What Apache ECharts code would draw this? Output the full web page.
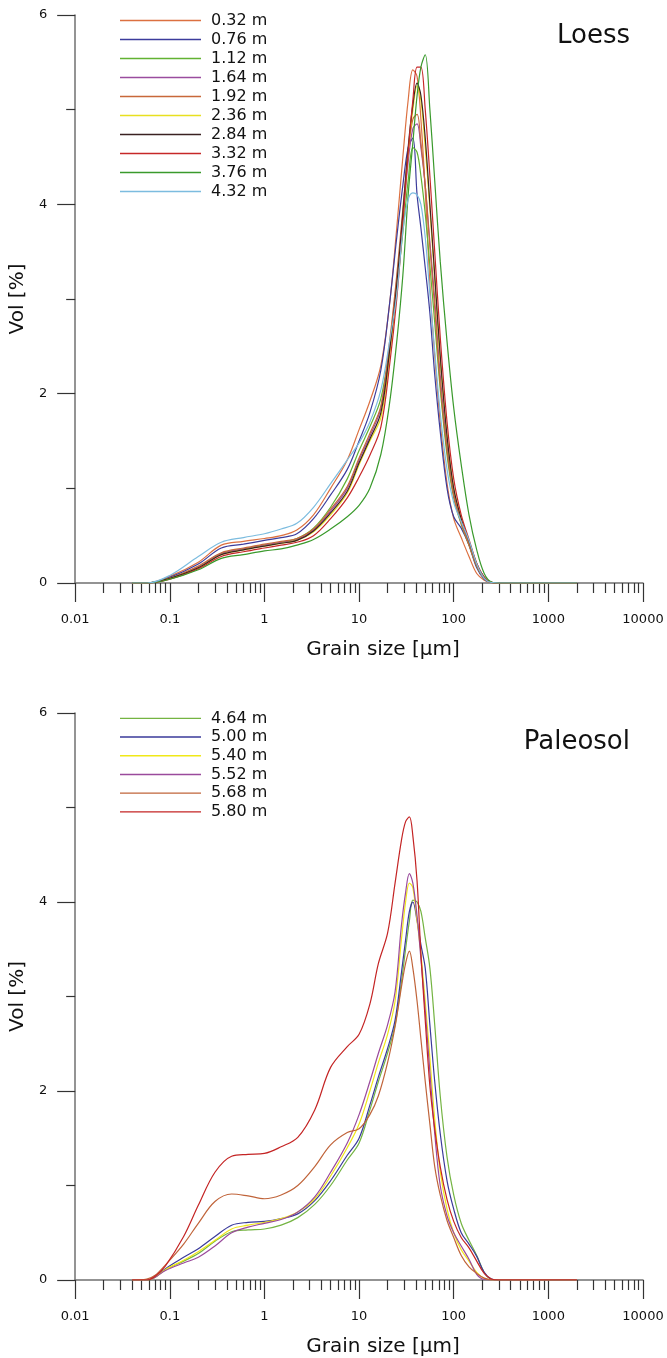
<!DOCTYPE html>
<html>
<head>
<meta charset="utf-8">
<script src="https://cdn.jsdelivr.net/npm/echarts@6/dist/echarts.min.js"></script>
<style>
  html, body { margin: 0; padding: 0; background: #fff; }
  #main { width: 667px; height: 1358px; }
</style>
</head>
<body>
<div id="main"></div>
<script>
// grain size classes (µm)
var loessSizes = [0.04, 0.058, 0.1, 0.2, 0.35, 0.6, 1, 1.5, 2.2, 3.3, 5, 7.5, 10, 13, 17, 21, 25, 29, 33, 37, 41, 45, 50, 56, 63, 72, 85, 100, 120, 145, 175, 210, 250, 300, 2000];
var paleoSizes = [0.04, 0.057, 0.07, 0.09, 0.14, 0.2, 0.3, 0.45, 0.67, 1, 1.5, 2.25, 3.4, 5, 7.5, 10, 13, 16, 20, 24, 28, 31, 34, 37, 41, 45, 50, 56, 63, 72, 85, 100, 120, 145, 175, 210, 250, 300, 2000];

// Loess samples (Vol %)
var loess032 = [0, 0, 0.07, 0.22, 0.40, 0.44, 0.47, 0.50, 0.56, 0.72, 1.00, 1.30, 1.62, 1.92, 2.30, 2.95, 3.75, 4.50, 5.10, 5.42, 5.35, 4.90, 4.15, 3.15, 2.40, 1.70, 1.05, 0.68, 0.48, 0.28, 0.10, 0.03, 0.003, 0, 0];
var loess076 = [0, 0, 0.06, 0.20, 0.37, 0.41, 0.45, 0.48, 0.52, 0.68, 0.93, 1.20, 1.50, 1.80, 2.25, 2.95, 3.65, 4.20, 4.60, 4.70, 4.10, 3.75, 3.33, 2.85, 2.20, 1.60, 1.00, 0.70, 0.58, 0.40, 0.16, 0.04, 0.005, 0, 0];
var loess112 = [0, 0, 0.05, 0.16, 0.31, 0.36, 0.40, 0.43, 0.47, 0.58, 0.80, 1.10, 1.40, 1.65, 1.95, 2.50, 3.10, 3.70, 4.25, 4.60, 4.55, 4.30, 3.90, 3.35, 2.75, 2.05, 1.35, 0.90, 0.62, 0.40, 0.18, 0.05, 0.005, 0, 0];
var loess164 = [0, 0, 0.05, 0.17, 0.31, 0.36, 0.40, 0.43, 0.46, 0.56, 0.76, 1.00, 1.30, 1.55, 1.85, 2.50, 3.20, 3.85, 4.45, 4.80, 4.85, 4.60, 4.20, 3.60, 3.00, 2.20, 1.45, 0.95, 0.65, 0.42, 0.20, 0.06, 0.006, 0, 0];
var loess192 = [0, 0, 0.05, 0.18, 0.32, 0.37, 0.41, 0.44, 0.47, 0.57, 0.78, 1.02, 1.32, 1.58, 1.87, 2.55, 3.25, 3.95, 4.55, 4.90, 4.95, 4.65, 4.20, 3.55, 2.90, 2.10, 1.40, 0.92, 0.63, 0.40, 0.18, 0.05, 0.005, 0, 0];
var loess236 = [0, 0, 0.05, 0.16, 0.30, 0.35, 0.39, 0.42, 0.45, 0.54, 0.72, 0.95, 1.25, 1.50, 1.75, 2.40, 3.10, 3.85, 4.55, 5.00, 5.25, 5.10, 4.60, 3.95, 3.20, 2.35, 1.55, 1.00, 0.68, 0.44, 0.20, 0.06, 0.006, 0, 0];
var loess284 = [0, 0, 0.05, 0.16, 0.30, 0.35, 0.39, 0.42, 0.45, 0.55, 0.74, 0.97, 1.27, 1.52, 1.80, 2.45, 3.15, 3.90, 4.60, 5.05, 5.28, 5.15, 4.70, 4.00, 3.25, 2.40, 1.55, 1.00, 0.68, 0.44, 0.20, 0.06, 0.006, 0, 0];
var loess332 = [0, 0, 0.04, 0.15, 0.28, 0.33, 0.37, 0.40, 0.43, 0.50, 0.68, 0.90, 1.12, 1.35, 1.65, 2.30, 3.00, 3.80, 4.55, 5.10, 5.45, 5.45, 5.00, 4.30, 3.50, 2.60, 1.70, 1.10, 0.72, 0.46, 0.21, 0.06, 0.006, 0, 0];
var loess376 = [0, 0, 0.04, 0.14, 0.26, 0.30, 0.34, 0.36, 0.40, 0.46, 0.57, 0.70, 0.82, 1.00, 1.36, 1.90, 2.55, 3.25, 4.10, 4.65, 5.15, 5.45, 5.58, 5.00, 4.25, 3.40, 2.55, 1.85, 1.25, 0.72, 0.35, 0.10, 0.01, 0, 0];
var loess432 = [0, 0, 0.08, 0.28, 0.43, 0.48, 0.52, 0.57, 0.63, 0.80, 1.05, 1.30, 1.48, 1.70, 2.04, 2.55, 3.05, 3.72, 4.05, 4.12, 4.10, 4.00, 3.65, 3.05, 2.45, 1.80, 1.20, 0.85, 0.65, 0.45, 0.20, 0.05, 0.005, 0, 0];

// Paleosol samples (Vol %)
var paleo464 = [0, 0, 0.03, 0.11, 0.20, 0.28, 0.41, 0.51, 0.53, 0.54, 0.58, 0.66, 0.80, 1.00, 1.27, 1.45, 1.80, 2.10, 2.40, 2.70, 3.15, 3.50, 3.80, 4.02, 4.00, 3.90, 3.62, 3.30, 2.70, 1.95, 1.30, 0.90, 0.60, 0.42, 0.26, 0.08, 0.008, 0, 0];
var paleo500 = [0, 0, 0.03, 0.12, 0.24, 0.33, 0.46, 0.58, 0.61, 0.62, 0.65, 0.70, 0.84, 1.05, 1.32, 1.50, 1.85, 2.15, 2.45, 2.75, 3.25, 3.60, 3.90, 4.00, 3.80, 3.55, 3.30, 2.70, 2.10, 1.55, 1.05, 0.75, 0.50, 0.38, 0.25, 0.08, 0.01, 0, 0];
var paleo540 = [0, 0, 0.03, 0.11, 0.21, 0.30, 0.42, 0.54, 0.58, 0.61, 0.65, 0.72, 0.86, 1.10, 1.40, 1.65, 2.00, 2.30, 2.60, 2.95, 3.60, 4.00, 4.20, 4.15, 3.80, 3.45, 2.95, 2.35, 1.70, 1.15, 0.75, 0.50, 0.32, 0.20, 0.08, 0.015, 0.002, 0, 0];
var paleo552 = [0, 0, 0.03, 0.10, 0.18, 0.24, 0.36, 0.50, 0.56, 0.60, 0.64, 0.72, 0.88, 1.14, 1.45, 1.75, 2.10, 2.40, 2.70, 3.05, 3.75, 4.10, 4.30, 4.20, 3.85, 3.40, 2.85, 2.20, 1.55, 1.00, 0.68, 0.50, 0.36, 0.22, 0.06, 0.005, 0, 0, 0];
var paleo568 = [0, 0.01, 0.05, 0.16, 0.38, 0.60, 0.83, 0.91, 0.89, 0.86, 0.90, 1.00, 1.20, 1.43, 1.56, 1.60, 1.75, 1.95, 2.30, 2.68, 3.10, 3.35, 3.48, 3.30, 2.95, 2.55, 2.10, 1.65, 1.20, 0.90, 0.63, 0.45, 0.26, 0.14, 0.07, 0.02, 0.002, 0, 0];
var paleo580 = [0, 0, 0.04, 0.15, 0.46, 0.79, 1.14, 1.31, 1.33, 1.34, 1.41, 1.51, 1.80, 2.25, 2.47, 2.60, 2.92, 3.35, 3.67, 4.20, 4.65, 4.85, 4.90, 4.70, 4.22, 3.45, 2.75, 2.05, 1.60, 1.20, 0.85, 0.62, 0.45, 0.34, 0.20, 0.07, 0.01, 0, 0];

var loessNames = ["0.32 m", "0.76 m", "1.12 m", "1.64 m", "1.92 m", "2.36 m", "2.84 m", "3.32 m", "3.76 m", "4.32 m"];
var loessColors = ["#dc7040", "#3c3c9c", "#62b232", "#9a4c9e", "#c8683a", "#e8e020", "#3a2222", "#c62828", "#3a9a2c", "#7cbcdf"];
var loessData = [loess032, loess076, loess112, loess164, loess192, loess236, loess284, loess332, loess376, loess432];

var paleoNames = ["4.64 m", "5.00 m", "5.40 m", "5.52 m", "5.68 m", "5.80 m"];
var paleoColors = ["#74b442", "#3a3a9a", "#f0e818", "#9a4a9c", "#c0643a", "#c42424"];
var paleoData = [paleo464, paleo500, paleo540, paleo552, paleo568, paleo580];

var majorTicks = [0.01, 0.1, 1, 10, 100, 1000, 10000];
var minorTicks = [];
for (var d = 0; d < 6; d++) {
  for (var m = 2; m <= 9; m++) {
    minorTicks.push(+(m * majorTicks[d]).toPrecision(6));
  }
}

var FONT = "DejaVu Sans";

void (function() {
  var chart = echarts.init(document.getElementById("main"));

  var makeSeries = function(names, colors, values, sizes, axisIndex) {
    return names.map(function(name, i) {
      return {
        name: name,
        type: "line",
        xAxisIndex: axisIndex * 2,
        yAxisIndex: axisIndex,
        symbol: "none",
        smooth: 0.35,
        data: sizes.map(function(x, j) { return [x, values[i][j]]; }),
        lineStyle: { width: 1.2, color: colors[i] },
        itemStyle: { color: colors[i] }
      };
    });
  };

  var mainX = function(g) {
    return {
      type: "log",
      logBase: 10,
      gridIndex: g,
      min: 0.01,
      max: 10000,
      position: "bottom",
      name: "Grain size [µm]",
      nameLocation: "middle",
      nameGap: 57,
      nameTextStyle: { fontFamily: FONT, fontSize: 20, color: "#111", padding: [0, 0, 0, 48] },
      axisLine: { onZero: false, lineStyle: { color: "#707070", width: 1.5 } },
      axisTick: { customValues: majorTicks, length: 19, lineStyle: { color: "#333", width: 1.2 } },
      axisLabel: {
        customValues: majorTicks,
        margin: 30,
        fontFamily: FONT,
        fontSize: 13,
        color: "#111",
        formatter: function(v) { return String(+(+v).toPrecision(6)); }
      },
      splitLine: { show: false }
    };
  };

  var minorX = function(g) {
    return {
      type: "log",
      logBase: 10,
      gridIndex: g,
      min: 0.01,
      max: 10000,
      position: "bottom",
      axisLine: { show: false },
      axisTick: { customValues: minorTicks, length: 10, lineStyle: { color: "#333", width: 1.2 } },
      axisLabel: { show: false },
      splitLine: { show: false }
    };
  };

  var mainY = function(g) {
    return {
      type: "value",
      gridIndex: g,
      min: 0,
      max: 6,
      interval: 2,
      name: "Vol [%]",
      nameLocation: "middle",
      nameGap: 46,
      nameTextStyle: { fontFamily: FONT, fontSize: 20, color: "#111" },
      axisLine: { show: true, onZero: false, lineStyle: { color: "#707070", width: 1.5 } },
      axisTick: { show: true, length: 18, lineStyle: { color: "#333", width: 1.2 } },
      minorTick: { show: true, splitNumber: 2, length: 9, lineStyle: { color: "#333", width: 1.2 } },
      axisLabel: { margin: 28, fontFamily: FONT, fontSize: 13, color: "#111" },
      splitLine: { show: false }
    };
  };

  var lineIcon = "path://M0,0H81V1.4H0Z";

  var makeLegend = function(names, top, rowHeight) {
    return {
      data: names,
      orient: "vertical",
      left: 115,
      top: top,
      icon: lineIcon,
      itemWidth: 81,
      itemHeight: 14,
      itemGap: 0,
      selectedMode: false,
      textStyle: { fontFamily: FONT, fontSize: 16, color: "#111", lineHeight: rowHeight, padding: [0, 0, 0, 5] }
    };
  };

  var option = {
    animation: false,
    backgroundColor: "#fff",
    title: [
      { text: "Loess", right: 32, top: 18, textStyle: { fontFamily: FONT, fontSize: 26, fontWeight: "normal", color: "#111" } },
      { text: "Paleosol", right: 32, top: 724, textStyle: { fontFamily: FONT, fontSize: 26, fontWeight: "normal", color: "#111" } }
    ],
    legend: [
      makeLegend(loessNames, 6, 19),
      makeLegend(paleoNames, 704, 18.7)
    ],
    grid: [
      { left: 73, right: 24, top: 15, height: 568 },
      { left: 73, right: 24, top: 713, height: 569 }
    ],
    xAxis: [mainX(0), minorX(0), mainX(1), minorX(1)],
    yAxis: [mainY(0), mainY(1)],
    series: makeSeries(loessNames, loessColors, loessData, loessSizes, 0)
      .concat(makeSeries(paleoNames, paleoColors, paleoData, paleoSizes, 1))
  };

  chart.setOption(option);
})();
</script>
</body>
</html>
